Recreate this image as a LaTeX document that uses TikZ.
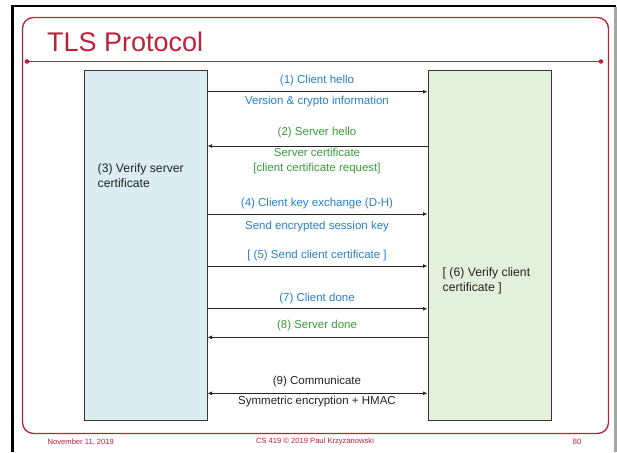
\documentclass[tikz,border=0pt]{standalone}
\usepackage{fontspec}
\setmainfont{Liberation Sans}
\usetikzlibrary{arrows.meta}
\definecolor{slidered}{RGB}{192,32,56}
\definecolor{msgblue}{RGB}{40,128,204}
\definecolor{msggreen}{RGB}{56,158,56}
\definecolor{clientfill}{RGB}{219,236,242}
\definecolor{serverfill}{RGB}{226,240,220}
\definecolor{edgegrey}{RGB}{55,55,55}
\definecolor{txtdark}{RGB}{35,35,35}
\begin{document}
\begin{tikzpicture}[x=1pt,y=-1pt,
  party/.style={draw=edgegrey, line width=1pt, inner sep=0, anchor=north west},
  msg/.style={draw=black!85, line width=1pt, -{Latex[length=4.5pt,width=4pt]}},
  msgboth/.style={draw=black!85, line width=1pt, {Latex[length=4.5pt,width=4pt]}-{Latex[length=4.5pt,width=4pt]}},
  lbl/.style={inner sep=0, font=\fontsize{11.5}{13}\selectfont},
  bluelbl/.style={lbl, text=msgblue},
  greenlbl/.style={lbl, text=msggreen},
  darklbl/.style={lbl, text=txtdark},
  boxtext/.style={inner sep=0, anchor=north west, align=left, text=txtdark, font=\fontsize{12.2}{14.6}\selectfont},
  foot/.style={inner sep=0, text=slidered, font=\fontsize{7.6}{9}\selectfont},
]
\useasboundingbox (0,0) rectangle (617,452);
\fill[white] (0,0) rectangle (617,452);
% slide frame
\fill[black] (11,5.5) rectangle (615.5,7.5);
\fill[black] (11,5.5) rectangle (13.5,452);
\fill[black!35] (614,7.5) rectangle (617,452);
% red border and title rule
\draw[slidered, line width=1.3pt, rounded corners=11pt] (22.5,17.5) rectangle (608.5,433.5);
\draw[slidered, line width=1.2pt] (27,61.5) -- (601,61.5);
\fill[slidered] (27,61.5) circle (2.3) (601,61.5) circle (2.3);
\node[inner sep=0, anchor=base west, text=slidered, font=\fontsize{27}{30}\selectfont] (title) at (47,52) {TLS Protocol};
% parties
\node[party, fill=clientfill, minimum width=123pt, minimum height=350.5pt] (C) at (83.5,69.5) {};
\node[party, fill=serverfill, minimum width=123.5pt, minimum height=350.5pt] (S) at (427.5,69.5) {};
\node[boxtext] (v3) at (97.5,163.5) {(3) Verify server\\certificate};
\node[boxtext] (v6) at (442.5,267.5) {[ (6) Verify client\\certificate ]};
% message rows
\coordinate (r1) at (0,91.7);
\coordinate (r2) at (0,146);
\coordinate (r4) at (0,214);
\coordinate (r5) at (0,266);
\coordinate (r7) at (0,308.8);
\coordinate (r8) at (0,337.3);
\coordinate (r9) at (0,393.3);
\draw[msg] (C.east |- r1) -- (S.west |- r1);
\draw[msg] (S.west |- r2) -- (C.east |- r2);
\draw[msg] (C.east |- r4) -- (S.west |- r4);
\draw[msg] (C.east |- r5) -- (S.west |- r5);
\draw[msg] (C.east |- r7) -- (S.west |- r7);
\draw[msg] (S.west |- r8) -- (C.east |- r8);
\draw[msgboth] (C.east |- r9) -- (S.west |- r9);
% labels
\node[bluelbl] (l1a) at (317,80.7) {(1) Client hello};
\node[bluelbl] (l1b) at (317,101.7) {Version \& crypto information};
\node[greenlbl] (l2a) at (317,132.3) {(2) Server hello};
\node[greenlbl] (l2b) at (317,152.3) {Server certificate};
\node[greenlbl] (l2c) at (317,168.3) {[client certificate request]};
\node[bluelbl] (l4a) at (317,204) {(4) Client key exchange (D-H)};
\node[bluelbl] (l4b) at (317,226.7) {Send encrypted session key};
\node[bluelbl] (l5) at (317,255.3) {[ (5) Send client certificate ]};
\node[bluelbl] (l7) at (317,298.3) {(7) Client done};
\node[greenlbl] (l8) at (317,326) {(8) Server done};
\node[darklbl] (l9a) at (317,381.3) {(9) Communicate};
\node[darklbl] (l9b) at (317,401.7) {Symmetric encryption + HMAC};
% footer
\node[foot, anchor=west] (fdate) at (47.5,442) {November 11, 2019};
\node[foot] (fcopy) at (315,442) {CS 419 © 2019 Paul Krzyzanowski};
\node[foot] (fpage) at (577,442) {80};
\end{tikzpicture}
\end{document}
